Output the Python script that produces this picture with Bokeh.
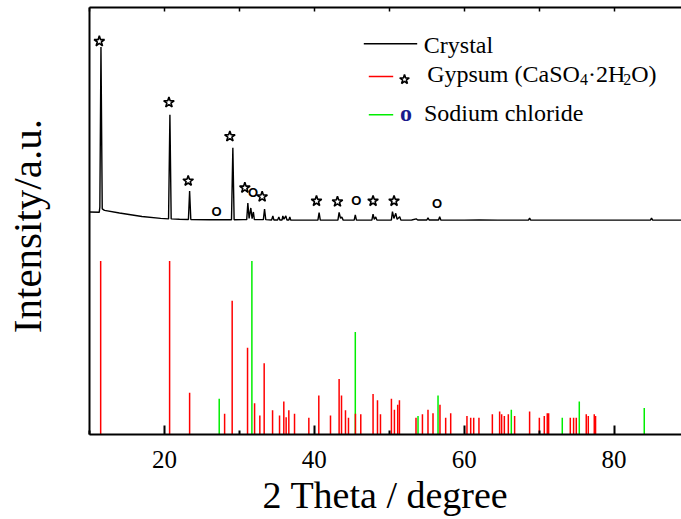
from bokeh.plotting import figure
from bokeh.models import FixedTicker, LinearAxis, Range1d
from bokeh.core.properties import value
from bokeh.embed import file_html
from bokeh.resources import INLINE

# ---------------- data ----------------
# Gypsum (CaSO4.2H2O) reference pattern: 2-theta (deg), relative intensity (%)
gyp_2theta = [11.49, 20.69, 23.36, 28.03, 29.04, 31.09, 32.03, 32.73, 33.31, 34.43,
              35.36, 35.93, 36.24, 36.60, 37.36, 39.27, 40.60, 42.16, 43.31, 43.63,
              44.16, 44.56, 45.49, 46.20, 47.84, 48.43, 48.83, 50.29, 50.69, 51.13,
              51.36, 53.57, 54.43, 55.17, 55.84, 56.77, 57.53, 58.20, 60.37, 60.87,
              61.27, 61.97, 63.76, 64.73, 65.00, 65.36, 65.89, 66.73, 68.73, 70.03,
              70.69, 71.09, 71.27, 74.16, 74.60, 74.96, 76.29, 76.56, 77.36, 77.53]
gyp_int = [100, 100, 24, 12, 77, 50, 18, 11, 41, 14,
           11, 19, 10, 14, 12, 9.7, 22.5, 11, 32, 22.5,
           14, 9.7, 12, 11.6, 23.3, 19.8, 11.6, 20.6, 14.3, 17.1,
           19.8, 9.6, 11.6, 14.3, 12.3, 17.1, 9.6, 12.3, 10.6, 9.6,
           9.6, 9.6, 11.6, 13.3, 11.6, 10.6, 11.6, 10.6, 13.3, 9.6,
           10.6, 12.3, 12.3, 9.6, 9.6, 9.6, 11.6, 10.6, 11.6, 10.6]

# Sodium chloride reference pattern
nacl_2theta = [27.31, 31.67, 45.47, 53.84, 56.51, 66.29, 73.09, 75.36, 84.03]
nacl_int = [20.6, 100, 59, 10.6, 22.5, 14.3, 9.6, 19, 15.2]

# Measured crystal pattern (offset trace): 2-theta, intensity (a.u.)
crystal_2theta = [10.0, 11.30, 11.38, 11.53, 11.70, 12.0, 14.0, 17.0, 19.5,
                  20.55, 20.73, 20.90, 22.0, 23.20, 23.36, 23.52, 26.0,
                  28.95, 29.13, 29.30, 30.5, 30.98, 31.13, 31.30, 31.53, 31.70, 31.87, 32.0,
                  33.20, 33.36, 33.52, 34.30, 34.47, 34.60, 35.10, 35.27, 35.40,
                  35.70, 35.80, 35.95, 36.20, 36.35, 36.60, 36.73, 36.85, 38.0,
                  40.48, 40.64, 40.80, 43.15, 43.31, 43.50, 43.67, 43.85,
                  45.32, 45.47, 45.62, 47.68, 47.84, 48.00, 48.20, 48.35,
                  50.28, 50.43, 50.62, 50.87, 51.05, 51.40, 51.55,
                  53.0, 53.60, 53.80, 55.02, 55.17, 55.32, 56.58, 56.73, 56.88,
                  60.0, 62.0, 64.5, 68.58, 68.73, 68.88, 75.0, 80.0,
                  84.85, 85.00, 85.15, 89.0]
crystal_int = [128.2, 128.0, 131.0, 223.2, 130.0, 129.1, 127.6, 125.6, 124.5,
               124.2, 184.2, 124.2, 124.0, 123.9, 140.3, 123.9, 123.7,
               123.7, 165.2, 123.7, 123.8, 123.8, 133.4, 124.5, 130.5, 124.3, 128.2, 123.8,
               123.8, 129.9, 123.8, 123.6, 125.9, 123.6, 123.6, 125.3, 123.6,
               123.6, 125.9, 124.0, 125.9, 123.6, 123.6, 125.3, 123.6, 123.5,
               123.5, 127.8, 123.5, 123.5, 128.0, 124.5, 125.3, 123.5,
               123.5, 126.5, 123.5, 123.5, 127.0, 124.0, 125.3, 123.5,
               123.5, 128.4, 124.5, 127.4, 124.0, 125.5, 123.5,
               123.6, 124.2, 123.6, 123.6, 124.9, 123.6, 123.6, 125.5, 123.6,
               123.5, 123.6, 123.5, 123.5, 124.6, 123.5, 123.5, 123.5,
               123.5, 124.6, 123.5, 123.5]

# Phase markers on the crystal trace
star_2theta = [11.31, 20.60, 23.17, 28.73, 30.73, 33.04, 40.29, 43.09, 47.84, 50.64]
star_int = [226.5, 191.3, 146.1, 171.7, 142.1, 137.0, 134.5, 134.1, 134.5, 134.5]
circ_2theta = [26.96, 31.84, 45.60, 56.37]
circ_int = [128.4, 139.3, 134.6, 133.2]

x_ticks = [20, 40, 60, 80]
x_minor = [10, 30, 50, 70, 90]
top_ticks = [10, 20, 30, 40, 50, 60, 70, 80, 90]

# ---------------- figure ----------------
SERIF = "Liberation Serif"
XMIN, XMAX, YMIN, YMAX = 10, 89, 0, 246

p = figure(width=681, height=519, x_range=Range1d(XMIN, XMAX), y_range=Range1d(YMIN, YMAX),
           output_backend="svg", toolbar_location=None,
           x_axis_location=None, y_axis_location=None,
           min_border_left=89, min_border_right=0, min_border_top=7, min_border_bottom=85)
p.outline_line_color = None
p.grid.visible = False
p.background_fill_color = "white"

xb = LinearAxis(ticker=FixedTicker(ticks=x_ticks, minor_ticks=x_minor))
xb.major_tick_in = 9
xb.major_tick_out = 0
xb.minor_tick_in = 4
xb.minor_tick_out = 0
xb.axis_line_width = 2
xb.major_tick_line_width = 2
xb.minor_tick_line_width = 2
xb.major_label_text_font = SERIF
xb.major_label_text_font_size = "25px"
xb.major_label_text_color = "black"
xb.major_label_standoff = 16
xb.axis_label = "2 Theta / degree"
xb.axis_label_text_font = SERIF
xb.axis_label_text_font_size = "38px"
xb.axis_label_text_font_style = "normal"
xb.axis_label_text_color = "black"
xb.axis_label_standoff = 3
p.add_layout(xb, "below")

xt = LinearAxis(ticker=FixedTicker(ticks=top_ticks, minor_ticks=[]))
xt.major_tick_in = 4
xt.major_tick_out = 0
xt.major_tick_line_width = 1.5
xt.axis_line_width = 2
xt.major_label_text_font_size = "1px"
xt.major_label_text_color = None
xt.major_label_standoff = 0
p.add_layout(xt, "above")

yl = LinearAxis(ticker=FixedTicker(ticks=[], minor_ticks=[]))
yl.major_tick_line_color = None
yl.minor_tick_line_color = None
yl.major_label_text_font_size = "1px"
yl.major_label_text_color = None
yl.major_label_standoff = 0
yl.axis_line_width = 2
yl.axis_label = "Intensity/a.u.\u00a0"
yl.axis_label_text_font = SERIF
yl.axis_label_text_font_size = "41px"
yl.axis_label_text_font_style = "normal"
yl.axis_label_text_color = "black"
yl.axis_label_standoff = 40
p.add_layout(yl, "left")

# reference sticks
p.segment(x0=nacl_2theta, y0=[0] * len(nacl_2theta), x1=nacl_2theta, y1=nacl_int,
          line_color="#00ee00", line_width=1.5)
p.segment(x0=gyp_2theta, y0=[0] * len(gyp_2theta), x1=gyp_2theta, y1=gyp_int,
          line_color="#ff0000", line_width=1.5)

# crystal trace
p.line(crystal_2theta, crystal_int, line_color="black", line_width=1.4)

# markers
p.scatter(star_2theta, star_int, marker="star", size=11, fill_color="white",
          line_color="black", line_width=1.6)
p.text(circ_2theta, circ_int, text=["O"] * len(circ_2theta), text_font=value("Liberation Sans"),
       text_font_style="bold", text_font_size="13px", text_align="center",
       text_baseline="middle", text_color="black")

# ---------------- legend (layout positions in pixels) ----------------
F_LEFT, F_TOP, F_BOTTOM = 89.0, 7.0, 434.0
PX_PER_X = (681.0 - F_LEFT) / (XMAX - XMIN)


def LX(px):
    return XMIN + (px - F_LEFT) / PX_PER_X


def LY(py):
    return (F_BOTTOM - py) * (YMAX - YMIN) / (F_BOTTOM - F_TOP)


TXT_SHIFT = 8  # empirical baseline correction


def ltext(px, py, s, size="24px", color="black", style="normal", font=SERIF):
    p.text([LX(px)], [LY(py - TXT_SHIFT)], text=[s], text_font=value(font), text_font_size=size,
           text_font_style=style, text_color=color, text_align="left",
           text_baseline="alphabetic")


p.line([LX(363.3), LX(416.7)], [LY(43.3)] * 2, line_color="black", line_width=1.5)
ltext(423.3, 52.3, "Crystal")

p.line([LX(368.3), LX(392.7)], [LY(76)] * 2, line_color="#ff0000", line_width=1.5)
p.scatter([LX(404)], [LY(79)], marker="star", size=10, fill_color="white",
          line_color="black", line_width=1.6)
ltext(426.7, 81.7, "Gypsum (CaSO")
ltext(579.4, 87.0, "4", size="16px")
ltext(587.4, 81.7, "\u00b72H")
ltext(622.7, 87.0, "2", size="16px")
ltext(630.7, 81.7, "O)")

p.line([LX(368.3), LX(392.7)], [LY(114.3)] * 2, line_color="#00ee00", line_width=1.5)
ltext(399.5, 120.5, "o", size="24px", color="#1a1a8c", style="bold")
ltext(423.5, 120.0, "Sodium chloride")

open("out.html", "w").write(file_html(p, INLINE))
